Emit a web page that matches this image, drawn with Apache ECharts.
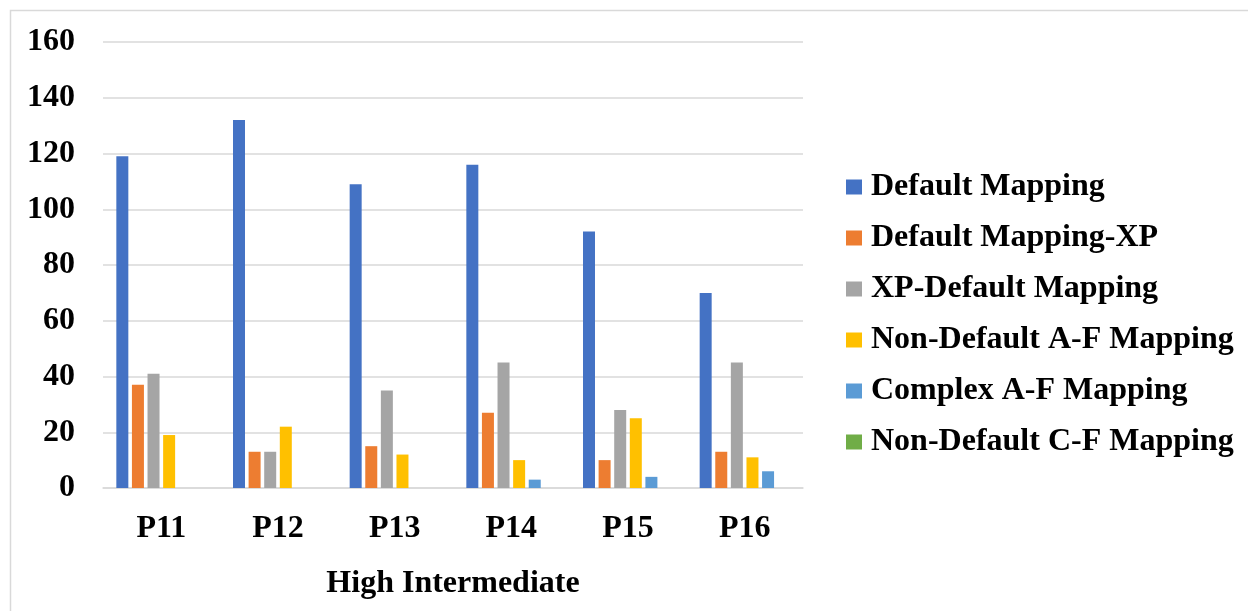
<!DOCTYPE html>
<html>
<head>
<meta charset="utf-8">
<style>
  html, body { margin: 0; padding: 0; background: #ffffff; }
  #chart { width: 1248px; height: 611px; }
</style>
<script src="https://cdn.jsdelivr.net/npm/echarts@6/dist/echarts.min.js"></script>
</head>
<body>
<div id="chart"></div>
<script>
// Participants in the high-intermediate group
const categories = ['P11', 'P12', 'P13', 'P14', 'P15', 'P16'];

// Counts per mapping type
const defaultMapping      = [119, 132, 109, 116, 92, 70];
const defaultMappingXP    = [37, 13, 15, 27, 10, 13];
const xpDefaultMapping    = [41, 13, 35, 45, 28, 45];
const nonDefaultAFMapping = [19, 22, 12, 10, 25, 11];
const complexAFMapping    = [0, 0, 0, 3, 4, 6];
const nonDefaultCFMapping = [0, 0, 0, 0, 0, 0];

const seriesNames = [
  'Default Mapping',
  'Default Mapping-XP',
  'XP-Default Mapping',
  'Non-Default A-F Mapping',
  'Complex A-F Mapping',
  'Non-Default C-F Mapping'
];
const seriesValues = [
  defaultMapping, defaultMappingXP, xpDefaultMapping,
  nonDefaultAFMapping, complexAFMapping, nonDefaultCFMapping
];
const colors = ['#4472C4', '#ED7D31', '#A5A5A5', '#FFC000', '#5B9BD5', '#70AD47'];

const yTicks = { min: 0, max: 160, interval: 20 };
const xAxisTitle = 'High Intermediate';

const font = '"Liberation Serif", "Times New Roman", serif';
const textSize = 32;

const chart = echarts.init(document.getElementById('chart'), null, { renderer: 'canvas' });

chart.setOption({
  animation: false,
  backgroundColor: '#ffffff',
  color: colors,
  graphic: [{
    type: 'rect',
    shape: { x: 10.5, y: 10.5, width: 1300, height: 700 },
    style: { fill: 'none', stroke: '#d9d9d9', lineWidth: 1.5 },
    silent: true,
    z: -1
  }],
  grid: { left: 103, right: 445, top: 42, bottom: 123, containLabel: false },
  legend: {
    orient: 'vertical',
    left: 841,
    top: 166,
    itemWidth: 16,
    itemHeight: 15,
    itemGap: 19,
    icon: 'rect',
    textStyle: {
      fontFamily: font, fontWeight: 'bold', fontSize: textSize, lineHeight: 32,
      color: '#000', padding: [0, 0, 0, 4]
    },
    data: seriesNames
  },
  xAxis: {
    type: 'category',
    data: categories,
    name: xAxisTitle,
    nameLocation: 'middle',
    nameGap: 80,
    nameTextStyle: { fontFamily: font, fontWeight: 'bold', fontSize: textSize, color: '#000' },
    axisLine: { lineStyle: { color: '#d9d9d9', width: 1.5 } },
    axisTick: { show: false },
    axisLabel: { fontFamily: font, fontWeight: 'bold', fontSize: textSize, color: '#000', margin: 25 }
  },
  yAxis: {
    type: 'value',
    min: yTicks.min,
    max: yTicks.max,
    interval: yTicks.interval,
    axisLine: { show: false },
    axisTick: { show: false },
    splitLine: { lineStyle: { color: '#d9d9d9', width: 1.5 } },
    axisLabel: {
      fontFamily: font, fontWeight: 'bold', fontSize: textSize, color: '#000',
      margin: 28, padding: [6, 0, 0, 0]
    }
  },
  series: seriesNames.map((name, i) => ({
    name,
    type: 'bar',
    data: seriesValues[i],
    barWidth: 12,
    barGap: '30%',
    itemStyle: { color: colors[i] }
  }))
});
</script>
</body>
</html>
